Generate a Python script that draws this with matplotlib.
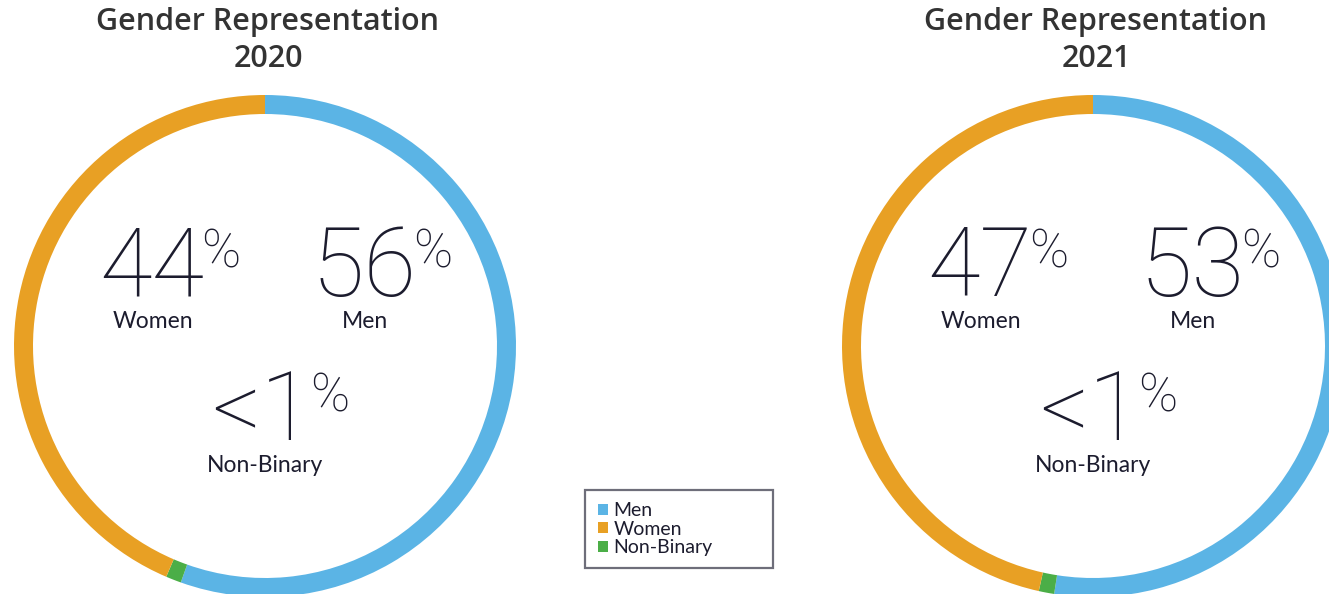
import matplotlib
matplotlib.use("Agg")
import matplotlib.pyplot as plt
from matplotlib.patches import Patch, Rectangle
from matplotlib import font_manager as fm

# ---- data ----
years = ["2020", "2021"]
categories = ["Men", "Women", "Non-Binary"]
men_values = [56, 53]
women_values = [44, 47]
nonbinary_values = [1, 1]
nonbinary_labels = ["<1", "<1"]
colors = {"Men": "#5BB4E5", "Women": "#E8A024", "Non-Binary": "#4BAE47"}

W, H = 1329, 594
fig = plt.figure(figsize=(W / 100, H / 100), dpi=100)
ax = fig.add_axes([0, 0, 1, 1])

names = sorted({f.name for f in fm.fontManager.ttflist})
num_font = "Roboto" if "Roboto" in names else "DejaVu Sans"
label_font = "Lato" if "Lato" in names else "DejaVu Sans"
title_font = "Open Sans" if "Open Sans" in names else "DejaVu Sans"

centers_x = [265, 1093]
cy = H - 346
R = 251
ring_w = 19
num_color = "#1c1c2e"

for i, cx in enumerate(centers_x):
    vals = [men_values[i], nonbinary_values[i], women_values[i]]
    cols = [colors["Men"], colors["Non-Binary"], colors["Women"]]
    ax.pie(vals, colors=cols, startangle=90, counterclock=False,
           center=(cx, cy), radius=R,
           wedgeprops=dict(width=ring_w, linewidth=0))

ax.set_xlim(0, W)
ax.set_ylim(0, H)
ax.set_aspect("equal")
ax.axis("off")

# titles
for i, cx in enumerate(centers_x):
    ax.text(cx + 3, H - 22, "Gender Representation", ha="center", va="center",
            fontsize=22, fontweight="semibold", color="#333333", family=title_font)
    ax.text(cx + 3, H - 59, years[i], ha="center", va="center",
            fontsize=22, fontweight="semibold", color="#333333", family=title_font)

fig.canvas.draw()
renderer = fig.canvas.get_renderer()


def big_number(x_center, y_base, s):
    t = ax.text(0, y_base, s, ha="left", va="baseline", fontsize=69,
                fontweight="light", color=num_color, family=num_font)
    p = ax.text(0, y_base + 29, "%", ha="left", va="baseline", fontsize=38,
                fontweight="light", color=num_color, family=num_font)
    wn = t.get_window_extent(renderer).width
    wp = p.get_window_extent(renderer).width
    gap = -3
    x0 = x_center - (wn + gap + wp) / 2
    t.set_x(x0)
    p.set_x(x0 + wn + gap)


for i, cx in enumerate(centers_x):
    big_number(cx - 95, H - 296, str(women_values[i]))
    ax.text(cx - 112, H - 328, "Women", ha="center", va="baseline", fontsize=16.5,
            color=num_color, family=label_font)
    big_number(cx + 117, H - 296, str(men_values[i]))
    ax.text(cx + 100, H - 328, "Men", ha="center", va="baseline", fontsize=16.5,
            color=num_color, family=label_font)
    big_number(cx + 15, H - 440, nonbinary_labels[i])
    ax.text(cx, H - 472, "Non-Binary", ha="center", va="baseline", fontsize=16.5,
            color=num_color, family=label_font)

# legend
ax.add_patch(Rectangle((585, H - 568), 188, 78, fill=False,
                       edgecolor="#6e6e7a", linewidth=1.6))
handles = [Patch(facecolor=colors[c], edgecolor="none", label=c) for c in categories]
leg = ax.legend(handles=handles, loc="upper left",
                bbox_to_anchor=(598 / W, 1 - 502 / H), frameon=False,
                fontsize=14, handlelength=0.5, handleheight=0.5,
                handletextpad=0.3, labelspacing=0.08, borderpad=0,
                borderaxespad=0)
for t in leg.get_texts():
    t.set_color(num_color)
    t.set_family(label_font)

fig.savefig("out.png", dpi=100)
